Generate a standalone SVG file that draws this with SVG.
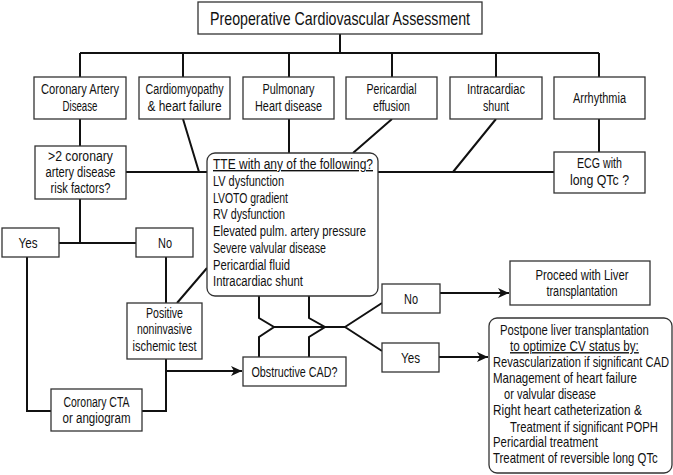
<svg xmlns="http://www.w3.org/2000/svg" width="673" height="475" viewBox="0 0 673 475">
<style>
.box{fill:#fff;stroke:#333;stroke-width:1.3}
.t{font-family:"Liberation Sans",Arial,sans-serif;font-size:14px;fill:#111}
.c{text-anchor:middle}
.ttl{font-size:19px}
.ln{fill:none;stroke:#111;stroke-width:2}
.u{text-decoration:underline}
</style>
<defs>
<marker id="ar" markerUnits="userSpaceOnUse" markerWidth="12" markerHeight="10" refX="11" refY="5" orient="auto">
<path d="M0,0 L11,5 L0,10 L3,5 z" fill="#111"/>
</marker>
</defs>
<rect width="673" height="475" fill="#fff"/>
<g id="connectors">
<path class="ln" d="M340,34 V53 M80,53 H599 M80,53 V77 M183,53 V77 M289,53 V77 M392,53 V77 M496,53 V77 M599,53 V77"/>
<path class="ln" d="M80,119 V146 M183,119 L199,172 M126,172 H207 M289,119 V153 M392,119 L353,153 M378,172 H554 M496,119 L453,172 M599,119 V152"/>
<path class="ln" d="M80,199 V243 M59,243 H136 M27,257 V411 H51 M166,257 V303 M177,303 L207,268 M166,359 V411 H142"/>
<path class="ln" d="M166,371 H242" marker-end="url(#ar)"/>
<path class="ln" d="M259,296 V318 L274,327 L259,337 V357 M309,296 V318 L325,327 L309,337 V357 M274,327 H345 M345,327 L382,303 M345,327 L382,351"/>
<path class="ln" d="M440,293 H509" marker-end="url(#ar)"/>
<path class="ln" d="M439,357 H488" marker-end="url(#ar)"/>
</g>
<g id="title"><rect class="box" x="198" y="2" width="284" height="32"/><text class="t c ttl" x="340" y="25" textLength="260" lengthAdjust="spacingAndGlyphs">Preoperative Cardiovascular Assessment</text></g>
<g id="cad"><rect class="box" x="34" y="77" width="92" height="42"/><text class="t c" x="80" y="94" textLength="78" lengthAdjust="spacingAndGlyphs">Coronary Artery</text><text class="t c" x="80" y="111" textLength="35" lengthAdjust="spacingAndGlyphs">Disease</text></g>
<g id="cardio"><rect class="box" x="139" y="77" width="91" height="42"/><text class="t c" x="184.5" y="94" textLength="78" lengthAdjust="spacingAndGlyphs">Cardiomyopathy</text><text class="t c" x="184.5" y="111" textLength="74" lengthAdjust="spacingAndGlyphs">&amp; heart failure</text></g>
<g id="pulm"><rect class="box" x="243" y="77" width="91" height="42"/><text class="t c" x="288.5" y="94" textLength="52" lengthAdjust="spacingAndGlyphs">Pulmonary</text><text class="t c" x="288.5" y="111" textLength="67" lengthAdjust="spacingAndGlyphs">Heart disease</text></g>
<g id="peri"><rect class="box" x="346" y="77" width="91" height="42"/><text class="t c" x="391.5" y="94" textLength="50" lengthAdjust="spacingAndGlyphs">Pericardial</text><text class="t c" x="391.5" y="111" textLength="37" lengthAdjust="spacingAndGlyphs">effusion</text></g>
<g id="intra"><rect class="box" x="450" y="77" width="92" height="42"/><text class="t c" x="496" y="94" textLength="58" lengthAdjust="spacingAndGlyphs">Intracardiac</text><text class="t c" x="496" y="111" textLength="26" lengthAdjust="spacingAndGlyphs">shunt</text></g>
<g id="arrhythmia"><rect class="box" x="554" y="77" width="91" height="42"/><text class="t c" x="599.5" y="103" textLength="53" lengthAdjust="spacingAndGlyphs">Arrhythmia</text></g>
<g id="riskfactors"><rect class="box" x="35" y="146" width="91" height="53"/><text class="t c" x="80.5" y="161" textLength="65" lengthAdjust="spacingAndGlyphs">&gt;2 coronary</text><text class="t c" x="80.5" y="177" textLength="70" lengthAdjust="spacingAndGlyphs">artery disease</text><text class="t c" x="80.5" y="193" textLength="60" lengthAdjust="spacingAndGlyphs">risk factors?</text></g>
<g id="tte"><rect class="box" x="207" y="153" width="171" height="143" rx="8"/>
<text class="t u" x="213" y="169" textLength="160" lengthAdjust="spacingAndGlyphs">TTE with any of the following?</text>
<text class="t" x="213" y="186" textLength="71" lengthAdjust="spacingAndGlyphs">LV dysfunction</text>
<text class="t" x="213" y="203" textLength="75" lengthAdjust="spacingAndGlyphs">LVOTO gradient</text>
<text class="t" x="213" y="219" textLength="72" lengthAdjust="spacingAndGlyphs">RV dysfunction</text>
<text class="t" x="213" y="236" textLength="153" lengthAdjust="spacingAndGlyphs">Elevated pulm. artery pressure</text>
<text class="t" x="213" y="253" textLength="113" lengthAdjust="spacingAndGlyphs">Severe valvular disease</text>
<text class="t" x="213" y="270" textLength="77" lengthAdjust="spacingAndGlyphs">Pericardial fluid</text>
<text class="t" x="213" y="286" textLength="90" lengthAdjust="spacingAndGlyphs">Intracardiac shunt</text></g>
<g id="ecg"><rect class="box" x="554" y="152" width="91" height="41"/><text class="t c" x="599.5" y="168" textLength="45" lengthAdjust="spacingAndGlyphs">ECG with</text><text class="t c" x="599.5" y="185" textLength="59" lengthAdjust="spacingAndGlyphs">long QTc ?</text></g>
<g id="yes1"><rect class="box" x="2" y="228" width="57" height="29"/><text class="t c" x="28" y="248" textLength="19" lengthAdjust="spacingAndGlyphs">Yes</text></g>
<g id="no1"><rect class="box" x="136" y="228" width="57" height="29"/><text class="t c" x="165" y="248" textLength="14" lengthAdjust="spacingAndGlyphs">No</text></g>
<g id="positive"><rect class="box" x="127" y="303" width="75" height="56"/><text class="t c" x="164.5" y="318" textLength="37" lengthAdjust="spacingAndGlyphs">Positive</text><text class="t c" x="164.5" y="334" textLength="55" lengthAdjust="spacingAndGlyphs">noninvasive</text><text class="t c" x="164.5" y="351" textLength="64" lengthAdjust="spacingAndGlyphs">ischemic test</text></g>
<g id="cta"><rect class="box" x="51" y="389" width="91" height="42"/><text class="t c" x="96.5" y="407" textLength="66" lengthAdjust="spacingAndGlyphs">Coronary CTA</text><text class="t c" x="96.5" y="423" textLength="68" lengthAdjust="spacingAndGlyphs">or angiogram</text></g>
<g id="obstructive"><rect class="box" x="243" y="357" width="103" height="29"/><text class="t c" x="294.5" y="377" textLength="86" lengthAdjust="spacingAndGlyphs">Obstructive CAD?</text></g>
<g id="no2"><rect class="box" x="382" y="284" width="58" height="29"/><text class="t c" x="411" y="304" textLength="14" lengthAdjust="spacingAndGlyphs">No</text></g>
<g id="yes2"><rect class="box" x="382" y="343" width="57" height="29"/><text class="t c" x="410.5" y="363" textLength="19" lengthAdjust="spacingAndGlyphs">Yes</text></g>
<g id="proceed"><rect class="box" x="510" y="261" width="140" height="44"/><text class="t c" x="582" y="280" textLength="93" lengthAdjust="spacingAndGlyphs">Proceed with Liver</text><text class="t c" x="582" y="296" textLength="71" lengthAdjust="spacingAndGlyphs">transplantation</text></g>
<g id="postpone"><rect class="box" x="489" y="318" width="183" height="155" rx="8"/>
<text class="t" transform="translate(500,335) scale(0.8,1)" textLength="186" lengthAdjust="spacingAndGlyphs">Postpone liver transplantation</text>
<text class="t u" transform="translate(510,351) scale(0.8,1)" textLength="161" lengthAdjust="spacingAndGlyphs">to optimize CV status by:</text>
<text class="t" transform="translate(493,367) scale(0.8,1)" textLength="220" lengthAdjust="spacingAndGlyphs">Revascularization if significant CAD</text>
<text class="t" transform="translate(493,383) scale(0.8,1)" textLength="180" lengthAdjust="spacingAndGlyphs">Management of heart failure</text>
<text class="t" transform="translate(504,399) scale(0.8,1)" textLength="115" lengthAdjust="spacingAndGlyphs">or valvular disease</text>
<text class="t" transform="translate(493,415) scale(0.8,1)" textLength="186" lengthAdjust="spacingAndGlyphs">Right heart catheterization &amp;</text>
<text class="t" transform="translate(510,432) scale(0.8,1)" textLength="185" lengthAdjust="spacingAndGlyphs">Treatment if significant POPH</text>
<text class="t" transform="translate(493,447) scale(0.8,1)" textLength="131" lengthAdjust="spacingAndGlyphs">Pericardial treatment</text>
<text class="t" transform="translate(493,463) scale(0.8,1)" textLength="206" lengthAdjust="spacingAndGlyphs">Treatment of reversible long QTc</text></g>
</svg>
